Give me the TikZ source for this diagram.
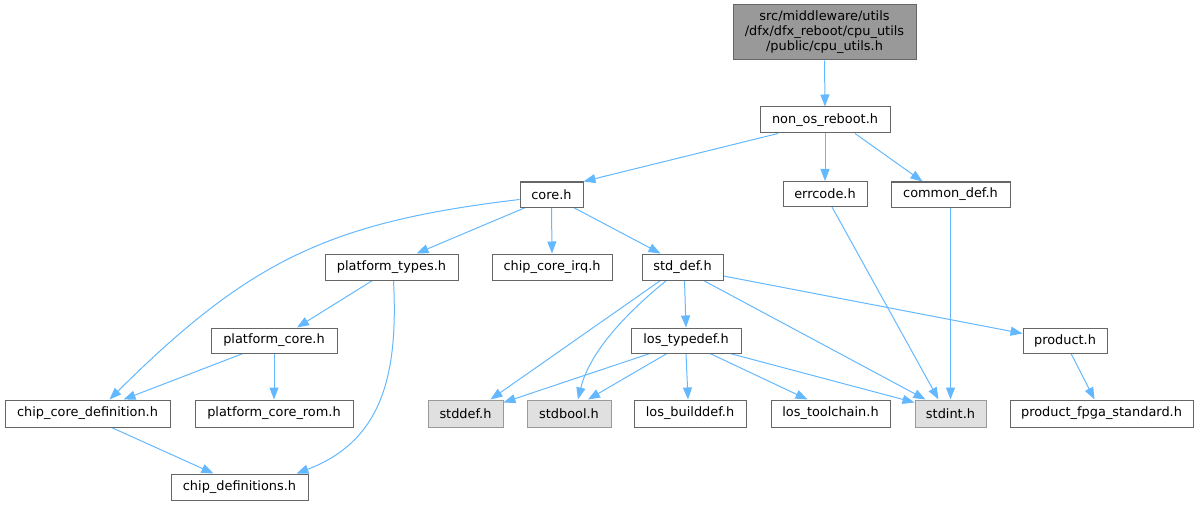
\documentclass[tikz,border=0pt]{standalone}
\usepackage{fontspec}
\setmainfont{DejaVu Sans}
\usetikzlibrary{arrows.meta,calc,backgrounds}
\definecolor{edgeblue}{HTML}{63B8FF}
\definecolor{nodeborder}{HTML}{666666}
\definecolor{grayborder}{HTML}{999999}
\definecolor{topfill}{HTML}{999999}
\definecolor{grayfill}{HTML}{E0E0E0}
\tikzset{
  filebox/.style={draw=nodeborder, fill=white, line width=1pt, inner sep=0pt, minimum height=26pt, font=\fontsize{12.9}{15}\selectfont, text=black},
  sysbox/.style={filebox, draw=grayborder, fill=grayfill},
  topbox/.style={filebox, fill=topfill, align=center},
  dep/.style={draw=edgeblue, line width=1pt, -{Triangle[length=12pt,width=9pt]}}
}
\begin{document}
\begin{tikzpicture}[x=1pt,y=-1pt]
\useasboundingbox (0,0) rectangle (1198,505);
\node[topbox, minimum width=183pt, minimum height=55pt] (top) at (824.5,32.5) {src/middleware/utils\\/dfx/dfx\_reboot/cpu\_utils\\/public/cpu\_utils.h};
\node[filebox, minimum width=130pt] (non) at (825,120) {non\_os\_reboot.h};
\node[filebox, minimum width=63pt, minimum height=25pt] (core) at (551.5,194.5) {core.h};
\node[filebox, minimum width=84pt, minimum height=25pt] (err) at (825,194) {errcode.h};
\node[filebox, minimum width=119pt, minimum height=25pt] (com) at (950.5,194.5) {common\_def.h};
\node[filebox, minimum width=133pt] (ptypes) at (391.5,267) {platform\_types.h};
\node[filebox, minimum width=120pt] (irq) at (552,267) {chip\_core\_irq.h};
\node[filebox, minimum width=81pt] (std) at (682.5,267) {std\_def.h};
\node[filebox, minimum width=126pt, minimum height=25pt] (pcore) at (274,340.5) {platform\_core.h};
\node[filebox, minimum width=110pt, minimum height=25pt] (los) at (686,340.5) {los\_typedef.h};
\node[filebox, minimum width=84pt, minimum height=25pt] (prod) at (1065,340.5) {product.h};
\node[filebox, minimum width=165pt, minimum height=27pt] (ccdef) at (87.5,413.5) {chip\_core\_definition.h};
\node[filebox, minimum width=158pt, minimum height=27pt] (prom) at (274,413.5) {platform\_core\_rom.h};
\node[sysbox, minimum width=75pt, minimum height=27pt] (stddef) at (465.5,413.5) {stddef.h};
\node[sysbox, minimum width=84pt, minimum height=27pt] (stdbool) at (569,413.5) {stdbool.h};
\node[filebox, minimum width=112pt, minimum height=27pt] (build) at (690,413.5) {los\_builddef.h};
\node[filebox, minimum width=119pt, minimum height=27pt] (tool) at (830.5,413.5) {los\_toolchain.h};
\node[sysbox, minimum width=71pt, minimum height=27pt] (stdint) at (950.5,413.5) {stdint.h};
\node[filebox, minimum width=183pt, minimum height=27pt] (fpga) at (1101.5,413.5) {product\_fpga\_standard.h};
\node[filebox, minimum width=137pt] (chipdefs) at (239.5,487) {chip\_definitions.h};

\begin{scope}[on background layer]
\draw[dep] (top.south) -- (non.north);
\draw[dep] ($(non.south)+(-47,0)$) -- (core.north east);
\draw[dep] (non.south) -- (err.north);
\draw[dep] ($(non.south)+(30,0)$) -- ($(com.north)+(-28,0)$);
\draw[dep] ($(core.west)+(0,5)$) .. controls (330,222) and (250,260) .. ($(ccdef.north)+(22,0)$);
\draw[dep] ($(core.south)+(-26,0)$) -- ($(ptypes.north)+(25,0)$);
\draw[dep] (core.south) -- (irq.north);
\draw[dep] ($(core.south)+(22,0)$) -- ($(std.north)+(-22,0)$);
\draw[dep] ($(err.south)+(7,0)$) -- ($(stdint.north)+(-12,0)$);
\draw[dep] (com.south) -- (stdint.north);
\draw[dep] ($(ptypes.south)+(-19,0)$) -- ($(pcore.north)+(23,0)$);
\draw[dep] ($(ptypes.south)+(2,0)$) .. controls (398,370) and (385,440) .. ($(chipdefs.north)+(57,0)$);
\draw[dep] ($(pcore.south)+(-31,0)$) -- ($(ccdef.north)+(36,0)$);
\draw[dep] (pcore.south) -- (prom.north);
\draw[dep] ($(ccdef.south)+(24,0)$) -- ($(chipdefs.north)+(-26,0)$);
\draw[dep] ($(std.south)+(-22,0)$) -- ($(stddef.north)+(25,0)$);
\draw[dep] ($(std.south)+(-16,0)$) .. controls (630,310) and (590,350) .. ($(stdbool.north)+(9,0)$);
\draw[dep] ($(std.south)+(2,0)$) -- (los.north);
\draw[dep] ($(std.south)+(21,0)$) -- ($(stdint.north)+(-25,0)$);
\draw[dep] ($(std.east)+(0,9)$) -- ($(prod.west)+(0,-7)$);
\draw[dep] ($(los.south)+(-36,0)$) -- ($(stddef.east)+(0,-11)$);
\draw[dep] ($(los.south)+(-19,0)$) -- ($(stdbool.north)+(19,0)$);
\draw[dep] (los.south) -- ($(build.north)+(-2,0)$);
\draw[dep] ($(los.south)+(24,0)$) -- ($(tool.north)+(-23,0)$);
\draw[dep] ($(los.south)+(44,0)$) -- ($(stdint.west)+(0,-11)$);
\draw[dep] ($(prod.south)+(6,0)$) -- ($(fpga.north)+(-7,0)$);
\end{scope}
\end{tikzpicture}
\end{document}
